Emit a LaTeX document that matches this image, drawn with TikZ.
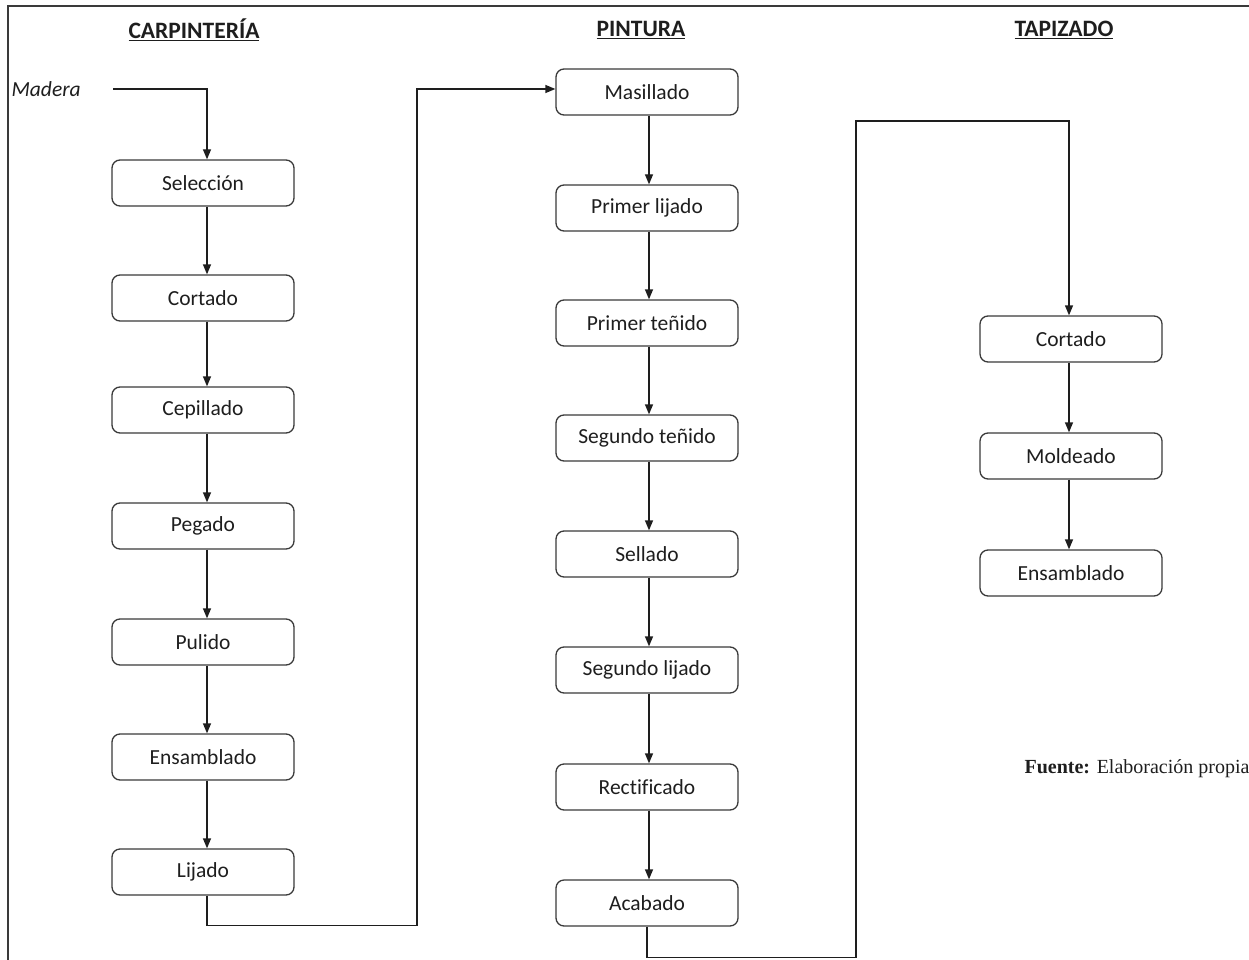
\documentclass[tikz,border=0pt]{standalone}
\usepackage{fontspec}
\setmainfont{Carlito}[Ligatures=NoCommon]
\newfontfamily\fuentefont{Liberation Serif}
\usetikzlibrary{arrows.meta}
\definecolor{edge}{HTML}{3A3A3A}
\definecolor{ink}{HTML}{1E1E1E}
\begin{document}
\begin{tikzpicture}[x=1pt,y=-1pt,
  stepbox/.style={draw=edge, line width=1.3pt, rounded corners=8pt,
    minimum width=182pt, minimum height=46pt, inner sep=0pt, fill=white,
    text=ink, font=\fontsize{21.5}{24}\selectfont},
  heading/.style={text=ink, font=\fontsize{23.5}{27}\selectfont\bfseries},
  flow/.style={draw=ink, line width=1.3pt, -{Triangle[length=10pt,width=8pt]}},
  link/.style={draw=ink, line width=1.3pt}]
\useasboundingbox (0,0) rectangle (1249,960);
% outer frame (top and left edges)
\draw[edge, line width=1.3pt] (8,960) -- (8,6) -- (1249,6);

% headings
\node[heading] (hc) at (194,30) {\underline{CARPINTERÍA}};
\node[heading] (hp) at (641,30) {\underline{PINTURA}};
\node[heading] (ht) at (1064,30) {\underline{TAPIZADO}};

% carpentry column
\node[anchor=west, text=ink, font=\fontsize{21.5}{24}\selectfont\itshape] (madera) at (8,89) {Madera};
\node[stepbox] (c1) at (203,183) {Selección};
\node[stepbox] (c2) at (203,298) {Cortado};
\node[stepbox] (c3) at (203,410) {Cepillado};
\node[stepbox] (c4) at (203,526) {Pegado};
\node[stepbox] (c5) at (203,642) {Pulido};
\node[stepbox] (c6) at (203,757) {Ensamblado};
\node[stepbox] (c7) at (203,872) {Lijado};

% painting column
\node[stepbox] (p1) at (647,92) {Masillado};
\node[stepbox] (p2) at (647,208) {Primer lijado};
\node[stepbox] (p3) at (647,323) {Primer teñido};
\node[stepbox] (p4) at (647,438) {Segundo teñido};
\node[stepbox] (p5) at (647,554) {Sellado};
\node[stepbox] (p6) at (647,670) {Segundo lijado};
\node[stepbox] (p7) at (647,787) {Rectificado};
\node[stepbox] (p8) at (647,903) {Acabado};

% upholstery column
\node[stepbox] (t1) at (1071,339) {Cortado};
\node[stepbox] (t2) at (1071,456) {Moldeado};
\node[stepbox] (t3) at (1071,573) {Ensamblado};

% source note
\node[anchor=west, text=ink, font=\fuentefont\fontsize{20}{22}\selectfont] (src) at (1021,769) {\textbf{Fuente:} Elaboración propia};

% connectors
\coordinate (m0) at (113,89);
\draw[flow] (m0) -| ([xshift=4pt]c1.north);
\foreach \a/\b in {c1/c2,c2/c3,c3/c4,c4/c5,c5/c6,c6/c7}
  \draw[flow] ([xshift=4pt]\a.south) -- ([xshift=4pt]\b.north);
\draw[flow] ([xshift=4pt]c7.south) -- ++(0,30) -| (417,89) -- ([yshift=3pt]p1.west);
\foreach \a/\b in {p1/p2,p2/p3,p3/p4,p4/p5,p5/p6,p6/p7,p7/p8}
  \draw[flow] ([xshift=2pt]\a.south) -- ([xshift=2pt]\b.north);
\draw[flow] (p8.south) -- ++(0,31) -| (856,121) -| ([xshift=-2pt]t1.north);
\foreach \a/\b in {t1/t2,t2/t3}
  \draw[flow] ([xshift=-2pt]\a.south) -- ([xshift=-2pt]\b.north);
\end{tikzpicture}
\end{document}
